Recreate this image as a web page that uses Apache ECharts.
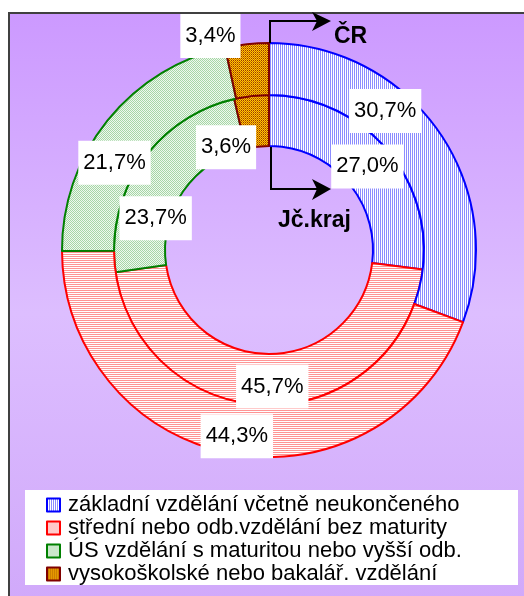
<!DOCTYPE html>
<html>
<head>
<meta charset="utf-8">
<script src="https://cdn.jsdelivr.net/npm/echarts@6/dist/echarts.min.js"></script>
<style>
  html, body { margin: 0; padding: 0; background: #fff; }
  #chart { width: 524px; height: 596px; }
</style>
</head>
<body>
<div id="chart"></div>
<script>
  // vzdělanostní struktura – ČR (vnější kruh) a Jč.kraj (vnitřní kruh)
  var categories = [
    'základní vzdělání včetně neukončeného',
    'střední nebo odb.vzdělání bez maturity',
    'ÚS vzdělání s maturitou nebo vyšší odb.',
    'vysokoškolské nebo bakalář. vzdělání'
  ];
  var valuesCR = [30.7, 44.3, 21.7, 3.4];
  var valuesJc = [27.0, 45.7, 23.7, 3.6];

  var borderColors = ['#0000FF', '#FF0000', '#008000', '#800000'];

  // posuny popisků (ručně posunuté jako v Excelu)
  var shiftCR = [[-35, -34], [0, 5], [-11, 28], [-39, -31]];
  var shiftJc = [[-1, 4], [2, 4], [-4, 43], [-28, 29]];

  function makePattern(w, h, cells) {
    var c = document.createElement('canvas');
    c.width = w; c.height = h;
    var ctx = c.getContext('2d');
    for (var y = 0; y < h; y++) {
      for (var x = 0; x < w; x++) {
        ctx.fillStyle = cells[y][x];
        ctx.fillRect(x, y, 1, 1);
      }
    }
    return { image: c, repeat: 'repeat' };
  }

  var patterns = [
    makePattern(2, 1, [['#8C8CFF', '#FFFFFF']]),
    makePattern(1, 2, [['#FF9494'], ['#FFFFFF']]),
    makePattern(2, 2, [['#A6D6A6', '#EEF8EE'], ['#EEF8EE', '#A6D6A6']]),
    makePattern(2, 2, [['#FFCC00', '#993300'], ['#CC6600', '#FFCC00']])
  ];

  function buildData(values) {
    return values.map(function (v, i) {
      return {
        name: categories[i],
        value: v,
        itemStyle: { color: patterns[i], borderColor: borderColors[i], borderWidth: 2 }
      };
    });
  }

  function fmt(p) {
    return p.value.toFixed(1).replace('.', ',') + '%';
  }

  var labelStyle = {
    show: true,
    position: 'inside',
    formatter: fmt,
    color: '#000',
    fontFamily: 'Liberation Sans, Arial, sans-serif',
    fontSize: 22,
    backgroundColor: '#fff',
    padding: [11, 5]
  };

  function shiftLayout(shift) {
    return function (params) {
      var s = shift[params.dataIndex];
      return { dx: s[0], dy: s[1] };
    };
  }

  var chart = echarts.init(document.getElementById('chart'));

  chart.setOption({
    animation: false,
    graphic: [
      {
        type: 'rect', z: -10,
        shape: { x: 9, y: 13, width: 600, height: 600 },
        style: {
          fill: {
            type: 'linear', x: 0, y: 0, x2: 0, y2: 1,
            colorStops: [
              { offset: 0, color: '#CC99FF' },
              { offset: 0.5, color: '#DDBEFF' },
              { offset: 1, color: '#D0A8FA' }
            ]
          },
          stroke: '#404040', lineWidth: 2
        }
      },
      {
        type: 'rect', z: -5,
        shape: { x: 25, y: 490, width: 493, height: 95 },
        style: { fill: '#fff' }
      },
      // šipka ČR
      {
        type: 'polyline', z: 10,
        shape: { points: [[270, 43], [270, 21], [318, 21]] },
        style: { stroke: '#000', lineWidth: 2, fill: null }
      },
      {
        type: 'polygon', z: 10,
        shape: { points: [[331, 21], [312, 12], [317, 21], [312, 31]] },
        style: { fill: '#000' }
      },
      {
        type: 'text', z: 10, x: 334, y: 37,
        style: { text: 'ČR', font: 'bold 23px Liberation Sans, Arial, sans-serif', fill: '#000', verticalAlign: 'middle' }
      },
      // šipka Jč.kraj
      {
        type: 'polyline', z: 10,
        shape: { points: [[271, 147], [271, 189], [318, 189]] },
        style: { stroke: '#000', lineWidth: 2, fill: null }
      },
      {
        type: 'polygon', z: 10,
        shape: { points: [[331, 189], [312, 179], [317, 189], [312, 200]] },
        style: { fill: '#000' }
      },
      {
        type: 'text', z: 10, x: 278, y: 221,
        style: { text: 'Jč.kraj', font: 'bold 23px Liberation Sans, Arial, sans-serif', fill: '#000', verticalAlign: 'middle' }
      }
    ],
    legend: {
      orient: 'vertical',
      icon: 'rect',
      left: 46,
      top: 494,
      height: 140,
      padding: 0,
      itemWidth: 13,
      itemHeight: 13,
      itemGap: 1,
      selectedMode: false,
      data: categories,
      itemStyle: { borderWidth: 2 },
      textStyle: {
        color: '#000',
        fontFamily: 'Liberation Sans, Arial, sans-serif',
        fontSize: 22,
        padding: [0, 0, 0, 3]
      }
    },
    series: [
      {
        name: 'Jč.kraj',
        type: 'pie',
        center: [269, 250],
        radius: [104, 155],
        startAngle: 90,
        clockwise: true,
        avoidLabelOverlap: false,
        silent: true,
        label: labelStyle,
        labelLine: { show: false },
        labelLayout: shiftLayout(shiftJc),
        data: buildData(valuesJc)
      },
      {
        name: 'ČR',
        type: 'pie',
        center: [269, 250],
        radius: [155, 207],
        startAngle: 90,
        clockwise: true,
        avoidLabelOverlap: false,
        silent: true,
        label: labelStyle,
        labelLine: { show: false },
        labelLayout: shiftLayout(shiftCR),
        data: buildData(valuesCR)
      }
    ]
  });

  window.onresize = function () {
    chart.resize();
  };
</script>
</body>
</html>
